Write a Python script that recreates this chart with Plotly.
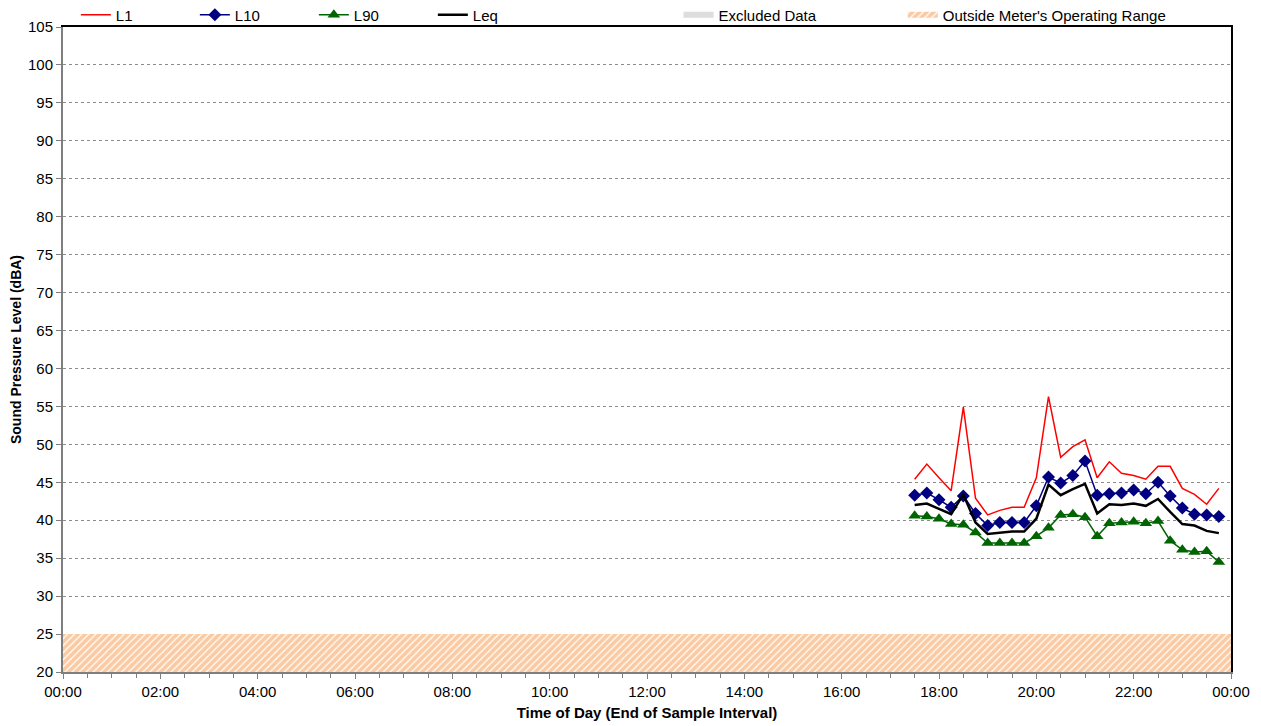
import plotly.graph_objects as go

times = ["17:30", "17:45", "18:00", "18:15", "18:30", "18:45", "19:00", "19:15", "19:30", "19:45",
         "20:00", "20:15", "20:30", "20:45", "21:00", "21:15", "21:30", "21:45", "22:00", "22:15",
         "22:30", "22:45", "23:00", "23:15", "23:30", "23:45"]

L1 = [45.4, 47.4, 45.6, 43.9, 54.9, 42.9, 40.7, 41.3, 41.7, 41.7,
      45.6, 56.3, 48.3, 49.7, 50.6, 45.6, 47.7, 46.2, 45.9, 45.4,
      47.1, 47.1, 44.2, 43.4, 42.1, 44.2]
L10 = [43.3, 43.6, 42.7, 41.7, 43.2, 40.9, 39.3, 39.7, 39.7, 39.7,
       41.9, 45.7, 44.9, 45.9, 47.8, 43.3, 43.5, 43.6, 44.0, 43.5,
       45.0, 43.2, 41.6, 40.8, 40.7, 40.5]
L90 = [40.6, 40.5, 40.2, 39.5, 39.4, 38.4, 37.0, 37.0, 37.0, 37.0,
       37.9, 39.0, 40.7, 40.8, 40.4, 37.9, 39.6, 39.7, 39.8, 39.6,
       39.9, 37.3, 36.1, 35.8, 35.9, 34.5]
Leq = [42.0, 42.2, 41.5, 40.8, 43.4, 39.7, 38.2, 38.4, 38.5, 38.5,
       40.2, 44.7, 43.3, 44.1, 44.8, 40.9, 42.1, 42.0, 42.2, 41.9,
       42.8, 41.1, 39.5, 39.3, 38.6, 38.3]

range_low = 20
range_high = 25
y_ticks = list(range(20, 106, 5))
x_tick_labels = ["00:00", "02:00", "04:00", "06:00", "08:00", "10:00", "12:00",
                 "14:00", "16:00", "18:00", "20:00", "22:00", "00:00"]

DAY = "2020-01-01 "
NEXT = "2020-01-02 00:00"
x = [DAY + t for t in times]
x_start = DAY + "00:00"

font = "Liberation Sans, Arial, sans-serif"
fig = go.Figure()

# Outside meter range (hatched)
fig.add_trace(go.Scatter(
    x=[x_start, NEXT, NEXT, x_start, x_start],
    y=[range_low, range_low, range_high, range_high, range_low],
    mode="none", fill="toself", fillcolor="white",
    fillpattern=dict(shape="/", fgcolor="#F79646", bgcolor="white", size=5, solidity=0.75),
    name="Outside Meter's Operating Range", legend="legend3", hoverinfo="skip",
))
fig.add_trace(go.Scatter(
    x=[None], y=[None], mode="none", fill="toself", fillcolor="#DDDDDD",
    name="Excluded Data", legend="legend2",
))

fig.add_trace(go.Scatter(x=x, y=L1, mode="lines", name="L1",
                         line=dict(color="#FF0000", width=1.5)))
fig.add_trace(go.Scatter(x=x, y=L10, mode="lines+markers", name="L10",
                         line=dict(color="#000080", width=1.5),
                         marker=dict(symbol="diamond", size=10, color="#000080")))
fig.add_trace(go.Scatter(x=x, y=L90, mode="lines+markers", name="L90",
                         line=dict(color="#006400", width=1.5),
                         marker=dict(symbol="triangle-up", size=11, color="#006400")))
fig.add_trace(go.Scatter(x=x, y=Leq, mode="lines", name="Leq",
                         line=dict(color="#000000", width=2.5)))

tickvals = [f"2020-01-01 {h:02d}:00" for h in range(0, 24, 2)] + [NEXT]

leg_common = dict(orientation="h", xanchor="left", y=1.0186, yanchor="middle",
                  font=dict(size=15), bgcolor="rgba(0,0,0,0)", itemwidth=30)

fig.update_layout(
    width=1253, height=718,
    margin=dict(l=55, r=30, t=19, b=54, autoexpand=False),
    plot_bgcolor="white", paper_bgcolor="white",
    font=dict(family=font, size=15, color="#000000"),
    showlegend=True,
    legend=dict(x=0.011, entrywidth=74, entrywidthmode="pixels", traceorder="normal", **leg_common),
    legend2=dict(x=0.527, **leg_common),
    legend3=dict(x=0.719, **leg_common),
    xaxis=dict(
        type="date", range=[x_start, NEXT],
        tickvals=tickvals, ticktext=x_tick_labels,
        ticks="outside", ticklen=5, tickcolor="#7F7F7F",
        minor=dict(dtick=1800000, ticks="outside", ticklen=4, tickcolor="#7F7F7F", showgrid=False),
        showline=True, linecolor="#7F7F7F", linewidth=2, mirror=False,
        showgrid=False, zeroline=False,
        title=dict(text="<b>Time of Day (End of Sample Interval)</b>", font=dict(size=15), standoff=8),
        tickfont=dict(size=15),
    ),
    xaxis2=dict(overlaying="x", side="top", showline=True, linecolor="#000000", linewidth=2,
                showticklabels=False, ticks="", showgrid=False, range=[0, 1], zeroline=False),
    yaxis=dict(
        range=[20, 105], tickvals=y_ticks,
        ticks="outside", ticklen=5, tickcolor="#7F7F7F",
        showline=True, linecolor="#7F7F7F", linewidth=2,
        showgrid=True, gridcolor="#8C8C8C", griddash="dot", gridwidth=1,
        zeroline=False,
        title=dict(text="<b>Sound Pressure Level (dBA)</b>", font=dict(size=14), standoff=6),
        tickfont=dict(size=15),
    ),
    yaxis2=dict(overlaying="y", side="right", showline=True, linecolor="#000000", linewidth=2,
                showticklabels=False, ticks="", showgrid=False, range=[0, 1], zeroline=False),
)
# dummy trace to activate the top/right border axes
fig.add_trace(go.Scatter(x=[None], y=[None], xaxis="x2", yaxis="y2", showlegend=False, hoverinfo="skip"))

fig.write_html("out.html")
